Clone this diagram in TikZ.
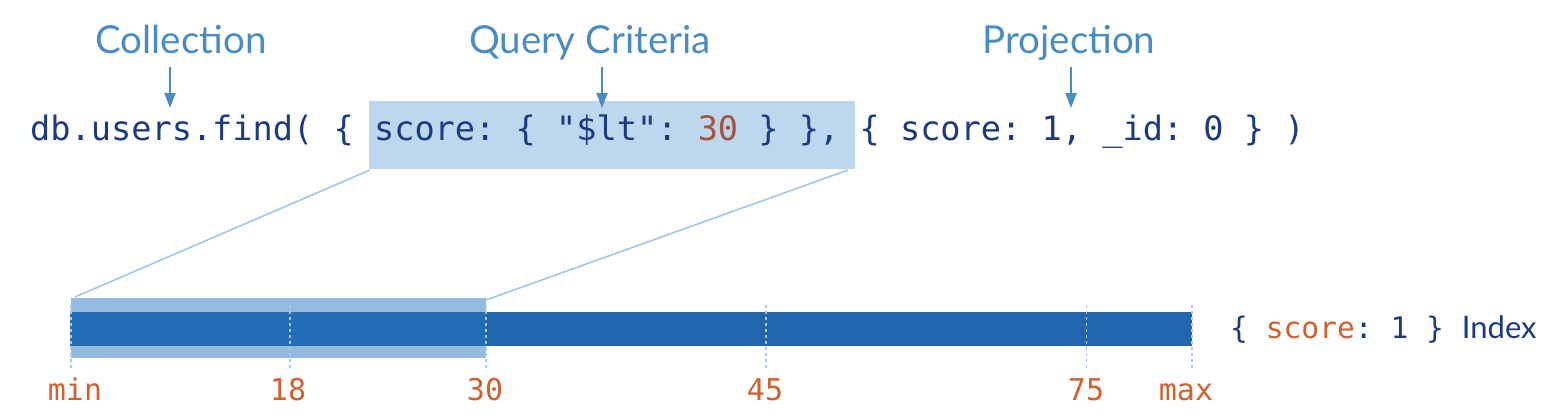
\documentclass[tikz,border=0pt]{standalone}
\usepackage{fontspec}
\setmainfont{Lato}
\newfontfamily\codefont{DejaVu Sans Mono}
\usetikzlibrary{arrows.meta}
\definecolor{navy}{HTML}{1B3A7F}
\definecolor{lblue}{HTML}{4A8BC2}
\definecolor{hilite}{HTML}{BDD7EE}
\definecolor{ovl}{HTML}{94BADF}
\definecolor{barc}{HTML}{2166AD}
\definecolor{barin}{HTML}{226DB6}
\definecolor{tickc}{HTML}{A7C8E7}
\definecolor{orng}{HTML}{D0602E}
\definecolor{brn}{HTML}{A3533E}
\definecolor{conn}{HTML}{9DC3E6}
\frenchspacing
\begin{document}
\begin{tikzpicture}[x=1pt,y=-1pt,
  codetext/.style={inner sep=0, text=navy, font=\codefont\fontsize{33.6}{40}\selectfont},
  lbl/.style={inner sep=0, text=lblue, anchor=base, font=\fontsize{38.5}{46}\selectfont},
  arr/.style={draw=lblue, line width=2, -{Triangle[length=15,width=11]}},
  tick/.style={draw=tickc, line width=1.5, dash pattern=on 3 off 3},
  ticklab/.style={inner sep=0, anchor=base, text=orng, font=\codefont\fontsize{30}{36}\selectfont},
  conn/.style={draw=conn, line width=1.5}]
\useasboundingbox (0,0) rectangle (1551,418);
% highlight box
\node[fill=hilite, minimum width=486, minimum height=68, anchor=north west, inner sep=0, outer sep=0] (qbox) at (369,101) {};
% code
\node[codetext, anchor=base west] (code) at (30,140) {db.users.find( \{ score: \{ "\$lt": \textcolor{brn}{30} \} \}, \{ score: 1, \_id: 0 \} )};
% labels
\node[lbl] (lcol) at (181,53) {Collection};
\node[lbl] (lqry) at (590,53) {Query Criteria};
\node[lbl] (lprj) at (1069,53) {Projection};
\coordinate (a1t) at (170,67); \coordinate (a1b) at (170,108);
\coordinate (a2t) at (602,67); \coordinate (a2b) at (602,108);
\coordinate (a3t) at (1071,67); \coordinate (a3b) at (1071,108);
\draw[arr] (a1t) -- (a1b);
\draw[arr] (a2t) -- (a2b);
\draw[arr] (a3t) -- (a3b);
% index bar
\node[fill=ovl, minimum width=415, minimum height=60, anchor=north west, inner sep=0, outer sep=0] (sel) at (71,298) {};
\node[fill=barin, minimum width=416, minimum height=34, anchor=north west, inner sep=0, outer sep=0] (barl) at (70,312) {};
\node[fill=barc, minimum width=706, minimum height=34, anchor=north west, inner sep=0, outer sep=0] (barr) at (486,312) {};
% connectors
\coordinate (qse) at (848,170);
\coordinate (qsw) at (370,170);
\coordinate (snw) at (75,297);
\coordinate (sne) at (486,300);
\draw[conn] (qsw) -- (snw);
\draw[conn] (qse) -- (sne);
% ticks
\foreach \x in {71,290,486,766,1086.5,1192} \draw[tick] (\x,305) -- (\x,368);
\node[ticklab] (tmin) at (75,400) {min};
\node[ticklab] (t18) at (288,400) {18};
\node[ticklab] (t30) at (485,400) {30};
\node[ticklab] (t45) at (765,400) {45};
\node[ticklab] (t75) at (1086,400) {75};
\node[ticklab] (tmax) at (1186,400) {max};
% index label
\node[inner sep=0, anchor=base west, text=navy, font=\fontsize{31}{38}\selectfont] (idx) at (1230,338) {{\codefont\fontsize{29.6}{36}\selectfont \{ \textcolor{orng}{score}: 1 \}\ }Index};
\end{tikzpicture}
\end{document}
